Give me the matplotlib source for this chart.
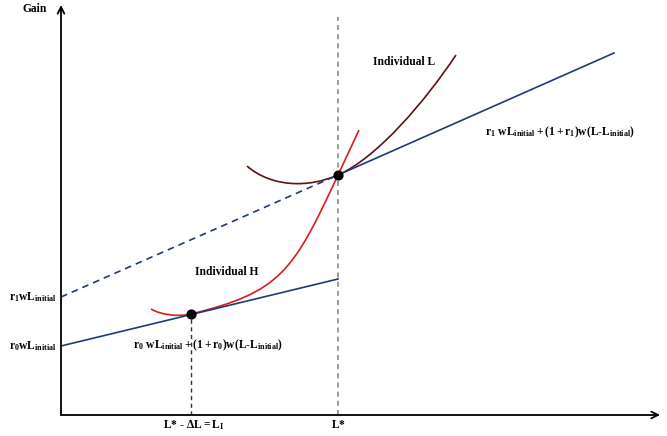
import matplotlib
matplotlib.use("Agg")
import matplotlib.pyplot as plt
from matplotlib.path import Path
from matplotlib.patches import PathPatch

plt.rcParams["font.family"] = ["Liberation Serif", "DejaVu Serif"]
plt.rcParams["font.weight"] = "bold"
plt.rcParams["mathtext.fontset"] = "custom"
plt.rcParams["mathtext.rm"] = "Liberation Serif:bold"
plt.rcParams["mathtext.it"] = "Liberation Serif:bold"
plt.rcParams["mathtext.bf"] = "Liberation Serif:bold"
plt.rcParams["mathtext.default"] = "rm"

# schematic values (arbitrary units)
l_star = 277
l_low = 130
r0_x = [0, l_star]
r0_y = [69, 136]
r1_dash_x = [0, l_star]
r1_dash_y = [118, 240]
r1_solid_x = [l_star, 553]
r1_solid_y = [240, 362]
touch_x = [l_low, l_star]
touch_y = [101, 240]

# bezier control points of the two indifference curves
curve_h = [(90, 106), (100, 100), (118, 98.1), (130, 101),
           (220, 122.9), (232, 143.3), (277, 240),
           (284, 255), (291, 270), (298, 285)]
curve_l = [(186, 249), (210, 228), (247, 226.7), (277, 240),
           (317, 257.7), (365, 315), (395, 360)]

BLUE = "#1f3a78"
RED = "#dc1c1c"
DARK_RED = "#5e1212"

fig = plt.figure(figsize=(6.67, 4.36), dpi=100)
ax = fig.add_axes([61 / 667, 21 / 436, 599 / 667, 410 / 436])
ax.set_xlim(0, 599)
ax.set_ylim(0, 410)
ax.axis("off")

# axes with arrows
ax.annotate("", xy=(0, 410), xytext=(0, 0),
            arrowprops=dict(arrowstyle="->", color="black", lw=1.3,
                            mutation_scale=12, shrinkA=0, shrinkB=0),
            annotation_clip=False)
ax.annotate("", xy=(599, 0), xytext=(0, 0),
            arrowprops=dict(arrowstyle="->", color="black", lw=1.3,
                            mutation_scale=12, shrinkA=0, shrinkB=0),
            annotation_clip=False)

# budget lines
ax.plot(r0_x, r0_y, color=BLUE, lw=1.2)
ax.plot(r1_dash_x, r1_dash_y, color=BLUE, lw=1.2, ls=(0, (4, 3)))
ax.plot(r1_solid_x, r1_solid_y, color=BLUE, lw=1.2)

# vertical guides
ax.plot([l_star, l_star], [0, 398], color="#8c8c84", lw=1.2, ls=(0, (3, 2.5)))
ax.plot([l_low, l_low], [0, touch_y[0]], color="#333333", lw=1.0, ls=(0, (3, 2.5)))


def bezier(points, color):
    codes = [Path.MOVETO] + [Path.CURVE4] * (len(points) - 1)
    patch = PathPatch(Path(points, codes), facecolor="none", edgecolor=color, lw=1.2)
    ax.add_patch(patch)


bezier(curve_h, RED)
bezier(curve_l, DARK_RED)

ax.scatter(touch_x, touch_y, s=40, color="black", zorder=5)

# labels
fs = 8.3
ax.text(-26, 406, "Gain", fontsize=fs, ha="center", va="center")
ax.text(343, 353, "Individual L", fontsize=fs, ha="center", va="center")
ax.text(166, 143, "Individual H", fontsize=fs, ha="center", va="center")
ax.text(499, 283, r"$r_1\ wL_{initial} + (1 + r_1)w(L\text{-}L_{initial})$",
        fontsize=fs, ha="center", va="center")
ax.text(147, 70, r"$r_0\ wL_{initial} + (1 + r_0)w(L\text{-}L_{initial})$",
        fontsize=fs, ha="center", va="center")
ax.text(-4, r1_dash_y[0], r"$r_1wL_{initial}$", fontsize=fs, ha="right", va="center")
ax.text(-4, r0_y[0], r"$r_0wL_{initial}$", fontsize=fs, ha="right", va="center")
ax.text(l_low + 3, -10, r"$L\text{*}\ \text{-}\ \Delta L = L_I$", fontsize=fs,
        ha="center", va="center")
ax.text(l_star, -10, r"$L\text{*}$", fontsize=fs, ha="center", va="center")

fig.savefig("out.png", dpi=100)
